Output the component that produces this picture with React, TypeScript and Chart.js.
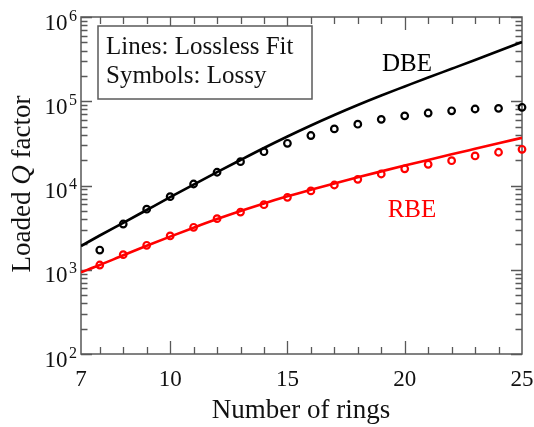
import { useEffect, useRef } from 'react';
import { Chart, registerables } from 'chart.js';

Chart.register(...registerables);

const SERIF = '"Liberation Serif", "Times New Roman", "DejaVu Serif", serif';

// Lossless fit (lines)
const fitRings = [6.2, 7, 8, 9, 10, 11, 12, 13, 14, 15, 16, 17, 18, 19, 20, 21, 22, 23, 24, 25];
const dbeLossless = [1913, 2550, 3608, 5120, 7263, 10250, 14380, 20080, 27870, 38150, 51550, 68670, 90260, 117000, 149700, 191300, 242800, 308800, 394900, 505000];
const rbeLossless = [933, 1139, 1484, 1924, 2475, 3157, 3993, 4982, 6133, 7443, 8915, 10590, 12510, 14710, 17230, 20130, 23460, 27270, 31690, 36820];

// Lossy (symbols)
const lossyRings = [7, 8, 9, 10, 11, 12, 13, 14, 15, 16, 17, 18, 19, 20, 21, 22, 23, 24, 25];
const dbeLossy = [1714, 3490, 5230, 7360, 10420, 14360, 19200, 25200, 31700, 39200, 47000, 53400, 61000, 67100, 72500, 77000, 80900, 82400, 84800];
const rbeLossy = [1138, 1510, 1950, 2520, 3190, 4040, 4840, 5920, 7244, 8630, 10140, 11850, 13690, 15790, 17850, 19700, 22420, 24810, 26900];

// Axes
const xMin = 6.2;
const xMax = 25;
const xLabelValues = [6.2, 10, 15, 20, 25];
const xLabelTexts = ['7', '10', '15', '20', '25'];
const xMajorTicks = [10, 15, 20];
const xMinorTicks = [7, 8, 9, 11, 12, 13, 14, 16, 17, 18, 19, 21, 22, 23, 24];
const yDecades = [100, 1000, 10000, 100000, 1000000];
const yExponents = ['2', '3', '4', '5', '6'];
const yMinorMultipliers = [2, 3, 4, 5, 6, 7, 8, 9];

const xTitle = 'Number of rings';
const yTitleParts = ['Loaded ', 'Q', ' factor'];
const legendLines = ['Lines: Lossless Fit', 'Symbols: Lossy'];

const framePlugin = {
  id: 'framePlugin',
  beforeDatasetsDraw(chart: any) {
    const { ctx, chartArea: a, scales } = chart;
    const x = scales.x;
    const y = scales.y;
    ctx.save();
    ctx.strokeStyle = '#585858';
    ctx.lineWidth = 1.5;
    ctx.strokeRect(a.left, a.top, a.right - a.left, a.bottom - a.top);
    ctx.lineWidth = 1.3;
    const vTick = (v: number, len: number) => {
      const px = Math.round(x.getPixelForValue(v)) + 0.5;
      ctx.beginPath();
      ctx.moveTo(px, a.bottom);
      ctx.lineTo(px, a.bottom - len);
      ctx.moveTo(px, a.top);
      ctx.lineTo(px, a.top + len);
      ctx.stroke();
    };
    xMajorTicks.forEach((v) => vTick(v, 13));
    xMinorTicks.forEach((v) => vTick(v, 7));
    const hTick = (v: number, len: number) => {
      const py = Math.round(y.getPixelForValue(v)) + 0.5;
      ctx.beginPath();
      ctx.moveTo(a.left, py);
      ctx.lineTo(a.left + len, py);
      ctx.moveTo(a.right, py);
      ctx.lineTo(a.right - len, py);
      ctx.stroke();
    };
    yDecades.forEach((d, i) => {
      hTick(d, 11);
      if (i < yDecades.length - 1) {
        yMinorMultipliers.forEach((m) => hTick(d * m, 6.5));
      }
    });
    ctx.restore();
  },
  afterDraw(chart: any) {
    const { ctx, chartArea: a, scales } = chart;
    const x = scales.x;
    const y = scales.y;
    ctx.save();
    ctx.fillStyle = '#111';
    // x tick labels
    ctx.font = `23px ${SERIF}`;
    ctx.textAlign = 'center';
    ctx.textBaseline = 'alphabetic';
    xLabelValues.forEach((v, i) => {
      ctx.fillText(xLabelTexts[i], x.getPixelForValue(v), a.bottom + 32);
    });
    // y tick labels 10^n
    yDecades.forEach((d, i) => {
      const py = y.getPixelForValue(d);
      const right = a.left - 4;
      ctx.textAlign = 'right';
      ctx.font = `16px ${SERIF}`;
      const ew = ctx.measureText(yExponents[i]).width;
      ctx.fillText(yExponents[i], right, py + 3.5);
      ctx.font = `23px ${SERIF}`;
      ctx.fillText('10', right - ew - 1.5, py + 12.5);
    });
    // x title
    ctx.textAlign = 'center';
    ctx.font = `27px ${SERIF}`;
    ctx.fillText(xTitle, (a.left + a.right) / 2 - 0.5, 418);
    // y title (rotated, italic Q)
    ctx.save();
    ctx.translate(30, 184);
    ctx.rotate(-Math.PI / 2);
    const fonts = [`27px ${SERIF}`, `italic 27px ${SERIF}`, `27px ${SERIF}`];
    let total = 0;
    const widths = yTitleParts.map((p, i) => {
      ctx.font = fonts[i];
      const w = ctx.measureText(p).width;
      total += w;
      return w;
    });
    let cx = -total / 2;
    ctx.textAlign = 'left';
    yTitleParts.forEach((p, i) => {
      ctx.font = fonts[i];
      ctx.fillText(p, cx, 0);
      cx += widths[i];
    });
    ctx.restore();
    // legend box
    ctx.fillStyle = '#ffffff';
    ctx.fillRect(98, 26, 214, 73);
    ctx.strokeStyle = '#5a5a5a';
    ctx.lineWidth = 1.5;
    ctx.strokeRect(98, 26, 214, 73);
    ctx.fillStyle = '#111';
    ctx.textAlign = 'left';
    ctx.font = `25px ${SERIF}`;
    ctx.fillText(legendLines[0], 106, 54);
    ctx.fillText(legendLines[1], 106, 83);
    // series labels
    ctx.textAlign = 'center';
    ctx.font = `25px ${SERIF}`;
    ctx.fillStyle = '#000';
    ctx.fillText('DBE', 407, 71);
    ctx.fillStyle = '#ff0000';
    ctx.fillText('RBE', 412, 217);
    ctx.restore();
  },
};

export default function App() {
  const ref = useRef<HTMLCanvasElement | null>(null);
  useEffect(() => {
    document.body.style.margin = '0';
    const canvas = ref.current;
    if (!canvas) return;
    const chart = new Chart(canvas, {
      type: 'line',
      data: {
        datasets: [
          {
            label: 'DBE lossless',
            data: fitRings.map((r, i) => ({ x: r, y: dbeLossless[i] })),
            borderColor: '#000000',
            borderWidth: 2.6,
            pointRadius: 0,
            cubicInterpolationMode: 'monotone',
            fill: false,
          },
          {
            label: 'RBE lossless',
            data: fitRings.map((r, i) => ({ x: r, y: rbeLossless[i] })),
            borderColor: '#ff0000',
            borderWidth: 2.6,
            pointRadius: 0,
            cubicInterpolationMode: 'monotone',
            fill: false,
          },
          {
            label: 'DBE lossy',
            data: lossyRings.map((r, i) => ({ x: r, y: dbeLossy[i] })),
            showLine: false,
            borderColor: '#000000',
            backgroundColor: 'rgba(0,0,0,0)',
            pointBorderColor: '#000000',
            pointBackgroundColor: 'rgba(255,255,255,0)',
            pointRadius: 3.3,
            pointBorderWidth: 2.2,
            clip: false,
          },
          {
            label: 'RBE lossy',
            data: lossyRings.map((r, i) => ({ x: r, y: rbeLossy[i] })),
            showLine: false,
            borderColor: '#ff0000',
            backgroundColor: 'rgba(0,0,0,0)',
            pointBorderColor: '#ff0000',
            pointBackgroundColor: 'rgba(255,255,255,0)',
            pointRadius: 3.3,
            pointBorderWidth: 2.2,
            clip: false,
          },
        ],
      },
      options: {
        responsive: false,
        animation: false,
        layout: { padding: { left: 81, right: 12, top: 17, bottom: 73 } },
        plugins: { legend: { display: false }, tooltip: { enabled: false } },
        scales: {
          x: { type: 'linear', min: xMin, max: xMax, display: false },
          y: { type: 'logarithmic', min: 100, max: 1000000, display: false },
        },
      },
      plugins: [framePlugin],
    } as any);
    return () => chart.destroy();
  }, []);
  return (
    <div style={{ width: 534, height: 427, background: '#fff' }}>
      <canvas ref={ref} width={534} height={427} />
    </div>
  );
}
